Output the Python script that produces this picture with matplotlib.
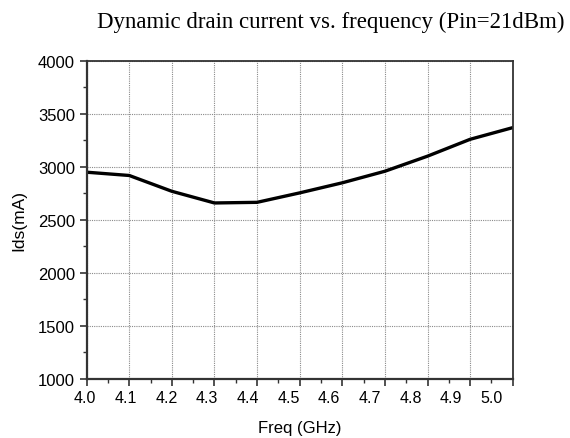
import matplotlib
matplotlib.use("Agg")
import matplotlib.pyplot as plt
from matplotlib.ticker import MultipleLocator, NullFormatter
import matplotlib.transforms as mtransforms

freq = [4.0, 4.1, 4.2, 4.3, 4.4, 4.5, 4.6, 4.7, 4.8, 4.9, 5.0]
ids_ma = [2949, 2918, 2769, 2659, 2665, 2754, 2849, 2958, 3100, 3259, 3369]
xtick_labels = ["4.0", "4.1", "4.2", "4.3", "4.4", "4.5", "4.6", "4.7", "4.8", "4.9", "5.0"]
title = "Dynamic drain current vs. frequency (Pin=21dBm)"

plt.rcParams["font.family"] = ["Liberation Sans", "DejaVu Sans"]

fig = plt.figure(figsize=(5.70, 4.39), dpi=100)
ax = fig.add_axes([0.152, 0.1344, 0.7475, 0.7251])

ax.plot(freq, ids_ma, color="black", lw=2.4, solid_joinstyle="round")

ax.set_xlim(4.0, 5.0)
ax.set_ylim(1000, 4000)
ax.xaxis.set_major_locator(MultipleLocator(0.1))
ax.xaxis.set_minor_locator(MultipleLocator(0.05))
ax.yaxis.set_major_locator(MultipleLocator(500))
ax.yaxis.set_minor_locator(MultipleLocator(250))
ax.xaxis.set_major_formatter(NullFormatter())

ax.grid(True, which="major", color="#8a8a8a", linestyle=(0, (1, 1)), linewidth=0.8)

for side in ["left", "bottom"]:
    ax.spines[side].set_linewidth(1.6)
    ax.spines[side].set_color("#333333")
for side in ["top", "right"]:
    ax.spines[side].set_linewidth(1.3)
    ax.spines[side].set_color("#333333")

ax.tick_params(which="major", direction="out", length=5, width=1.2, colors="#333333",
               labelsize=12, labelcolor="black", pad=3.5)
ax.tick_params(which="minor", direction="out", length=3, width=1.0, colors="#333333")
ax.tick_params(axis="x", which="both", top=False)
ax.tick_params(axis="y", which="both", right=False)

# tick labels are slightly compressed relative to the ticks in the original
trans = mtransforms.blended_transform_factory(ax.transData, ax.transAxes)
for i, lab in enumerate(xtick_labels):
    ax.text(3.996 + i * 0.0955, -0.035, lab, transform=trans, ha="center", va="top",
            fontsize=11.5)

ax.set_xlabel("Freq (GHz)", fontsize=12, labelpad=21)
ax.set_ylabel("Ids(mA)", fontsize=12.5, labelpad=8)

fig.text(0.581, 0.95, title, ha="center", va="center", fontsize=16.5,
         family=["Liberation Serif", "DejaVu Serif"])

fig.savefig("out.png", dpi=100)
